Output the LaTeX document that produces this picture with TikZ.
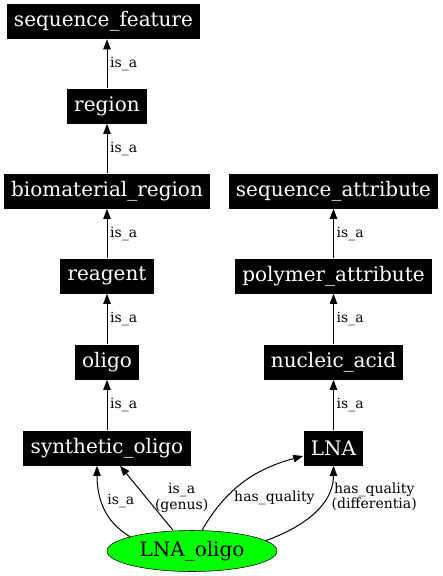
\documentclass[tikz,border=0pt]{standalone}
\usepackage{fontspec}
\setmainfont{DejaVu Serif}
\usetikzlibrary{arrows.meta,shapes.geometric}

\begin{document}
\begin{tikzpicture}[x=0.75pt,y=-0.75pt,
      >={Triangle[length=7.5pt,width=5.5pt]},
      term/.style={fill=black,text=white,minimum height=26.25pt,
        inner xsep=5.5pt,font=\fontsize{15}{17}\selectfont},
      oligo/.style={ellipse,draw,fill=green,minimum width=127.5pt,
        minimum height=30.75pt,inner sep=0pt,font=\fontsize{15}{17}\selectfont},
      lbl/.style={font=\fontsize{10.5}{11.5}\selectfont,inner sep=2pt,align=center}]
      \useasboundingbox (0,0) rectangle (443,576);
      \node[term] (sf) at (103.5, 21.5) {sequence\_feature};
      \node[term] (reg) at (107, 106) {region};
      \node[term] (bio) at (107, 191) {biomaterial\_region};
      \node[term] (rea) at (107, 276) {reagent};
      \node[term] (oli) at (107, 362) {oligo};
      \node[term] (syn) at (107, 448) {synthetic\_oligo};
      \node[term] (sa) at (333.5, 191) {sequence\_attribute};
      \node[term] (pa) at (333.5, 276) {polymer\_attribute};
      \node[term] (na) at (333.5, 362) {nucleic\_acid};
      \node[term] (lna) at (333.5, 448) {LNA};
      \node[oligo] (lo) at (192, 551) {LNA\_oligo};

      \path[->,line width=0.75pt]
      (reg) edge node [lbl,right] {is\_a} (reg |- sf.south)
      (bio) edge node [lbl,right] {is\_a} (reg)
      (rea) edge node [lbl,right] {is\_a} (bio)
      (oli) edge node [lbl,right] {is\_a} (rea)
      (syn) edge node [lbl,right] {is\_a} (oli)
      (pa) edge node [lbl,right] {is\_a} (sa)
      (na) edge node [lbl,right] {is\_a} (pa)
      (lna) edge node [lbl,right] {is\_a} (na)
      (lo.167) edge [out=150,in=-90] node [lbl,right=2pt,pos=.58] {is\_a}
        ([xshift=-7.5pt]syn.south)
      ([xshift=-14.25pt]lo.north) edge node [lbl,right=4pt] {is\_a\\(genus)}
        ([xshift=9.75pt]syn.south)
      ([xshift=7.5pt]lo.north) edge [out=60,in=195] node [lbl,right=4pt,pos=.3] {has\_quality}
        ([yshift=-6pt]lna.west)
      (lo.8) edge [out=20,in=-90] node [lbl,right=2pt,pos=.7] {has\_quality\\(differentia)}
        (lna.south)
      ;
\end{tikzpicture}
\end{document}
